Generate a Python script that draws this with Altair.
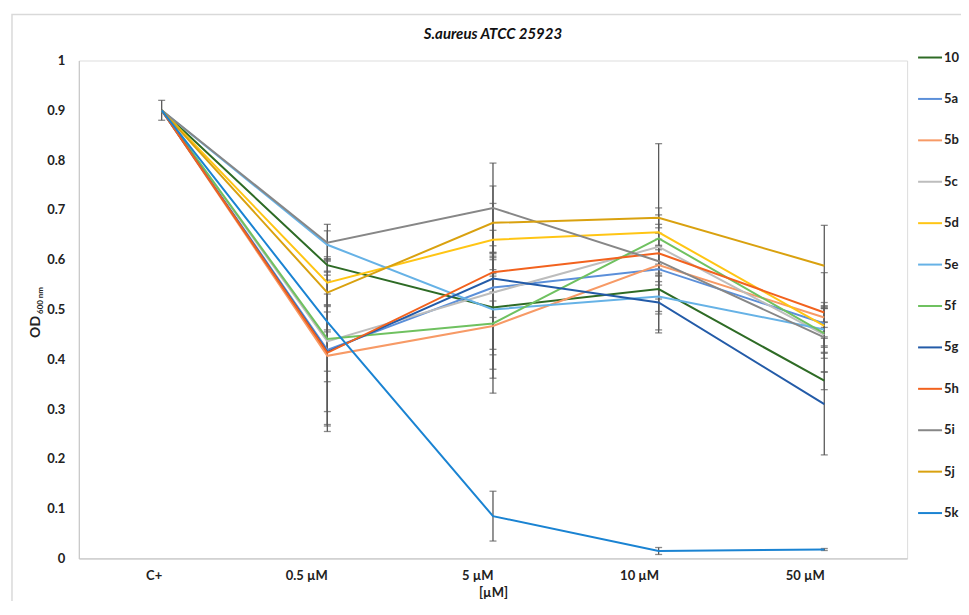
import altair as alt
import pandas as pd

categories = ["C+", "0.5 µM", "5 µM", "10 µM", "50 µM"]
series = ["10", "5a", "5b", "5c", "5d", "5e", "5f", "5g", "5h", "5i", "5j", "5k"]
colors = ["#2e6b25", "#5b8fd9", "#f79a66", "#bdbdbd", "#ffc514", "#66b2e6",
          "#6fc160", "#235ba8", "#f2621e", "#878787", "#d9a10f", "#1a83d2"]

v_10 = [0.90, 0.589, 0.504, 0.541, 0.357]
v_5a = [0.90, 0.419, 0.544, 0.581, 0.472]
v_5b = [0.90, 0.407, 0.467, 0.589, 0.484]
v_5c = [0.90, 0.436, 0.534, 0.626, 0.449]
v_5d = [0.90, 0.554, 0.640, 0.655, 0.467]
v_5e = [0.90, 0.630, 0.500, 0.526, 0.460]
v_5f = [0.90, 0.441, 0.472, 0.643, 0.452]
v_5g = [0.90, 0.415, 0.562, 0.514, 0.310]
v_5h = [0.90, 0.413, 0.575, 0.613, 0.494]
v_5i = [0.90, 0.634, 0.704, 0.597, 0.444]
v_5j = [0.90, 0.534, 0.674, 0.684, 0.588]
v_5k = [0.90, 0.475, 0.085, 0.015, 0.018]

e_10 = [0.02, 0.012, 0.124, 0.050, 0.018]
e_5a = [0.0, 0.150, 0.060, 0.060, 0.030]
e_5b = [0.0, 0.052, 0.105, 0.040, 0.020]
e_5c = [0.0, 0.170, 0.125, 0.045, 0.025]
e_5d = [0.0, 0.045, 0.073, 0.035, 0.040]
e_5e = [0.0, 0.028, 0.080, 0.030, 0.015]
e_5f = [0.0, 0.065, 0.140, 0.190, 0.050]
e_5g = [0.0, 0.160, 0.045, 0.055, 0.102]
e_5h = [0.0, 0.118, 0.040, 0.040, 0.080]
e_5i = [0.0, 0.037, 0.090, 0.030, 0.070]
e_5j = [0.0, 0.025, 0.074, 0.020, 0.081]
e_5k = [0.0, 0.020, 0.050, 0.007, 0.002]

values = [v_10, v_5a, v_5b, v_5c, v_5d, v_5e, v_5f, v_5g, v_5h, v_5i, v_5j, v_5k]
errors = [e_10, e_5a, e_5b, e_5c, e_5d, e_5e, e_5f, e_5g, e_5h, e_5i, e_5j, e_5k]

chart_title = "S.aureus ATCC 25923"

rows = []
for s, vals, errs in zip(series, values, errors):
    for i, (c, v, e) in enumerate(zip(categories, vals, errs)):
        rows.append({"series": s, "cat": c, "order": i, "value": v, "err": e,
                     "lo": v - e, "hi": v + e})
df = pd.DataFrame(rows)
df_err = df[df["err"] > 0]

FONT = "Lato"
W, H = 830, 499

x_scale = alt.Scale(type="point", padding=0.5)
x_enc = alt.X("cat:N", sort=categories, scale=x_scale,
              axis=alt.Axis(title="[µM]", labelFont=FONT, labelFontWeight="bold",
                            labelFontSize=13, labelColor="#222222", labelPadding=17,
                            titleFont=FONT, titleFontWeight="bold", titleFontSize=13,
                            titleColor="#222222", titlePadding=4, ticks=False,
                            domainColor="#c8c8c8", domainWidth=1.2, labelAngle=0,
                            grid=False))
y_scale = alt.Scale(domain=[0, 1], nice=False, zero=True)

frame = alt.Chart(pd.DataFrame({"k": [0]})).mark_rect(
    fill=None, stroke="#d9d9d9", strokeWidth=1.5
).encode(x=alt.value(-67), x2=alt.value(900), y=alt.value(-46), y2=alt.value(570))

title_mark = alt.Chart(pd.DataFrame({"t": [chart_title]})).mark_text(
    align="center", baseline="middle", font=FONT, fontSize=15, fontWeight="bold",
    fontStyle="italic", color="#111111"
).encode(text="t:N", x=alt.value(W / 2), y=alt.value(-27))

err_rule = alt.Chart(df_err).mark_rule(color="#5a5a5a", strokeWidth=1.3).encode(
    x=alt.X("cat:N", sort=categories, scale=x_scale),
    y=alt.Y("lo:Q", scale=y_scale),
    y2="hi:Q",
)
cap_lo = alt.Chart(df_err).mark_tick(color="#5a5a5a", size=7, thickness=1.3,
                                     orient="horizontal").encode(
    x=alt.X("cat:N", sort=categories, scale=x_scale),
    y=alt.Y("lo:Q", scale=y_scale),
)
cap_hi = alt.Chart(df_err).mark_tick(color="#5a5a5a", size=7, thickness=1.3,
                                     orient="horizontal").encode(
    x=alt.X("cat:N", sort=categories, scale=x_scale),
    y=alt.Y("hi:Q", scale=y_scale),
)

lines = alt.Chart(df).mark_line(strokeWidth=2).encode(
    x=x_enc,
    y=alt.Y("value:Q", scale=y_scale,
            axis=alt.Axis(title=None, values=[i / 10 for i in range(11)], format="~g",
                          labelFont=FONT, labelFontWeight="bold", labelFontSize=13,
                          labelColor="#222222", labelPadding=14, ticks=False,
                          domainColor="#c8c8c8", domainWidth=1.2, grid=False)),
    color=alt.Color("series:N", sort=series,
                    scale=alt.Scale(domain=series, range=colors),
                    legend=alt.Legend(title=None, orient="none", legendX=840, legendY=-16,
                                      symbolType="stroke", symbolSize=576,
                                      symbolStrokeWidth=2, labelFont=FONT,
                                      labelFontWeight="bold", labelFontSize=13,
                                      labelColor="#222222", labelOffset=1,
                                      rowPadding=21.5)),
    order=alt.Order("order:Q"),
)

od = alt.Chart(pd.DataFrame({"t": ["OD"]})).mark_text(
    angle=270, align="right", baseline="middle", font=FONT, fontWeight="bold",
    fontSize=14, color="#222222"
).encode(text="t:N", x=alt.value(-43), y=alt.value(256))
sub = alt.Chart(pd.DataFrame({"t": ["600 nm"]})).mark_text(
    angle=270, align="left", baseline="middle", font=FONT, fontWeight="bold",
    fontSize=8, color="#222222"
).encode(text="t:N", x=alt.value(-38), y=alt.value(254))

chart = alt.layer(frame, title_mark, err_rule, cap_lo, cap_hi, lines, od, sub).properties(
    width=W, height=H,
    autosize=alt.AutoSizeParams(type="none"),
    padding={"left": 71, "top": 52, "right": 54, "bottom": 42},
).configure_view(stroke=None).configure(background="white")

chart.save("out.html", embed_options={"renderer": "svg", "actions": False})
